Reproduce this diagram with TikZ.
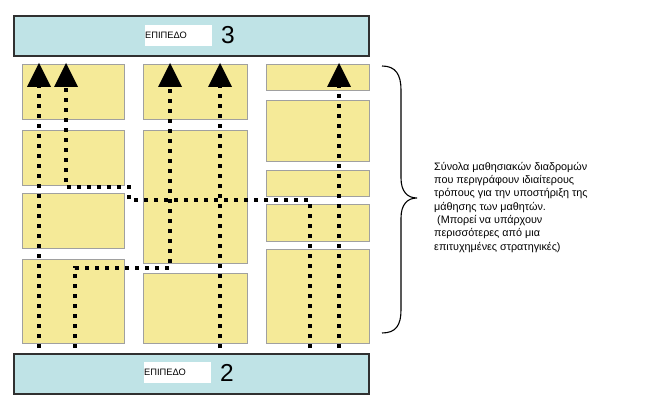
\documentclass[tikz,border=0pt]{standalone}
\usepackage{fontspec}
\setmainfont{Liberation Sans}
\usetikzlibrary{arrows.meta}
\definecolor{barfill}{HTML}{BFE3E6}
\definecolor{boxfill}{HTML}{F5EA98}
\definecolor{boxline}{HTML}{A0A0A0}
\definecolor{barline}{HTML}{303030}
\begin{document}
\begin{tikzpicture}[x=1pt,y=-1pt,
 bar/.style={draw=barline, line width=1.6pt, fill=barfill, anchor=north west, minimum width=355pt, minimum height=40pt, inner sep=0pt},
 ybox/.style={draw=boxline, line width=1.3pt, fill=boxfill, anchor=north west, inner sep=0pt},
 lbl/.style={fill=white, anchor=west, inner xsep=0pt, inner ysep=0pt, text width=67pt, minimum height=21pt, align=left, font=\fontsize{9.3}{10}\selectfont},
 num/.style={inner sep=0pt, font=\fontsize{24.5}{26}\selectfont},
 dotline/.style={line width=4.2pt, dash pattern=on 4.2pt off 5.8pt},
 route/.style={dotline, -{Triangle[length=24pt,width=24pt,line width=0pt]}},
 bracestyle/.style={line width=1.1pt, black},
 note/.style={anchor=north west, inner sep=0pt, align=left, font=\fontsize{10.8}{13.3}\selectfont}
]
\useasboundingbox (0,0) rectangle (666,406);
% bars
\node[bar] (top) at (13,15) {};
\node[bar] (bottom) at (13,353) {};
\node[lbl] (l3) at (145,35.5) {ΕΠΙΠΕΔΟ};
\node[num] (n3) at (228,35) {3};
\node[lbl] (l2) at (144,372.5) {ΕΠΙΠΕΔΟ};
\node[num] (n2) at (227,372.5) {2};
% column 1
\node[ybox, minimum width=102pt, minimum height=55pt] (a1) at (22,64) {};
\node[ybox, minimum width=102pt, minimum height=55pt] (a2) at (22,130) {};
\node[ybox, minimum width=102pt, minimum height=55pt] (a3) at (22,193) {};
\node[ybox, minimum width=102pt, minimum height=84pt] (a4) at (22,259) {};
% column 2
\node[ybox, minimum width=104pt, minimum height=55pt] (b1) at (143,64) {};
\node[ybox, minimum width=104pt, minimum height=133pt] (b2) at (143,130) {};
\node[ybox, minimum width=104pt, minimum height=70pt] (b3) at (143,273) {};
% column 3
\node[ybox, minimum width=103pt, minimum height=26pt] (c1) at (266,64) {};
\node[ybox, minimum width=103pt, minimum height=61pt] (c2) at (266,100) {};
\node[ybox, minimum width=103pt, minimum height=26pt] (c3) at (266,170) {};
\node[ybox, minimum width=103pt, minimum height=37pt] (c4) at (266,204) {};
\node[ybox, minimum width=103pt, minimum height=94pt] (c5) at (266,249) {};
% route points
\coordinate (pa0) at (39,348);
\coordinate (pa1) at (39,63);
\coordinate (pb0) at (310,348);
\coordinate (pb1) at (310,200);
\coordinate (pb2) at (129,200);
\coordinate (pb3) at (129,187);
\coordinate (pb4) at (66,187);
\coordinate (pb5) at (66,63);
\coordinate (pc0) at (75,348);
\coordinate (pc1) at (75,268);
\coordinate (pc2) at (170,268);
\coordinate (pc3) at (170,63);
\coordinate (pd0) at (220,348);
\coordinate (pd1) at (220,63);
\coordinate (pe0) at (339,348);
\coordinate (pe1) at (339,63);
\draw[route] (pa0) -- (pa1);
\draw[route] (pb0) -- (pb1) -- (pb2) -- (pb3) -- (pb4) -- (pb5);
\draw[route] (pc0) -- (pc1) -- (pc2) -- (pc3);
\draw[route] (pd0) -- (pd1);
\draw[route] (pe0) -- (pe1);
% brace
\draw[bracestyle] (382,66) .. controls (396,66) and (401,75) .. (401,90) -- (401,178)
  .. controls (401,191) and (407,198) .. (417,198)
  .. controls (407,198) and (401,205) .. (401,218) -- (401,310)
  .. controls (401,325) and (396,333) .. (382,333);
\node[note] (txt) at (434,162) {Σύνολα μαθησιακών διαδρομών\\που περιγράφουν ιδιαίτερους\\τρόπους για την υποστήριξη της\\μάθησης των μαθητών.\\\ (Μπορεί να υπάρχουν\\περισσότερες από μια\\επιτυχημένες στρατηγικές)};
\end{tikzpicture}
\end{document}
